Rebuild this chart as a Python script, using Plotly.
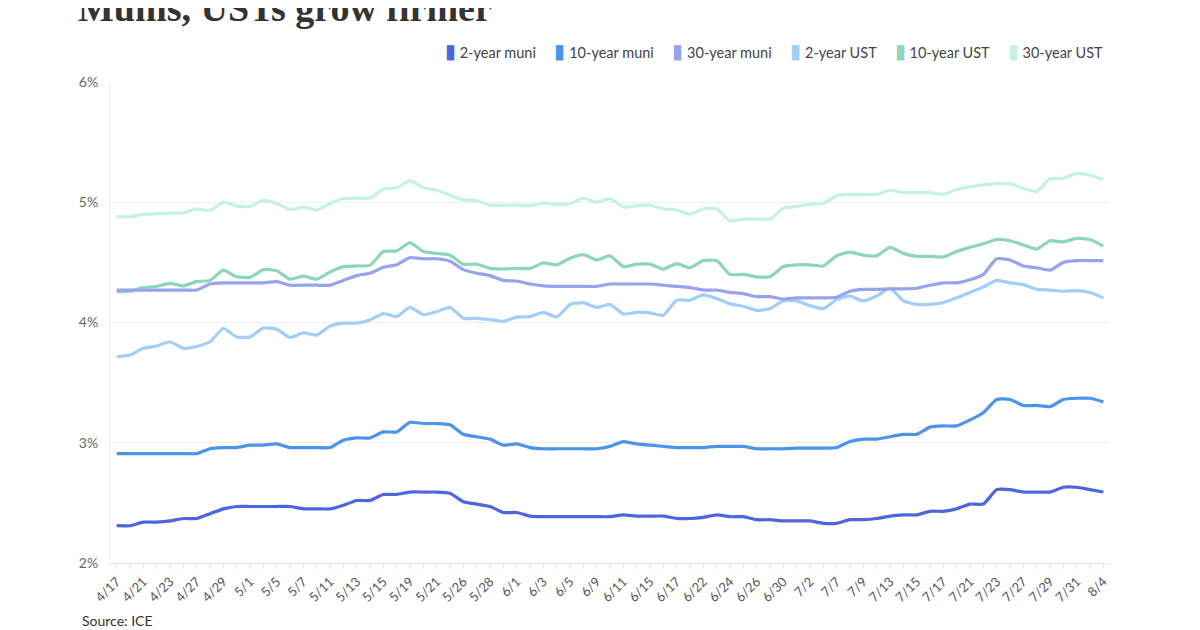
import plotly.graph_objects as go

# -------------------------------------------------------
# 1. Datos
# -------------------------------------------------------
fechas = [
    "4/17", "4/20", "4/21", "4/22", "4/23", "4/24", "4/27", "4/28", "4/29", "4/30",
    "5/1", "5/4", "5/5", "5/6", "5/7", "5/8", "5/11", "5/12", "5/13", "5/14",
    "5/15", "5/18", "5/19", "5/20", "5/21", "5/22", "5/26", "5/27", "5/28", "5/29",
    "6/1", "6/2", "6/3", "6/4", "6/5", "6/8", "6/9", "6/10", "6/11", "6/12",
    "6/15", "6/16", "6/17", "6/18", "6/22", "6/23", "6/24", "6/25", "6/26", "6/29",
    "6/30", "7/1", "7/2", "7/6", "7/7", "7/8", "7/9", "7/10", "7/13", "7/14",
    "7/15", "7/16", "7/17", "7/20", "7/21", "7/22", "7/23", "7/24", "7/27", "7/28",
    "7/29", "7/30", "7/31", "8/3", "8/4",
]

muni_2y = [
    2.31, 2.31, 2.34, 2.34, 2.35, 2.37, 2.37, 2.41, 2.45, 2.47,
    2.47, 2.47, 2.47, 2.47, 2.45, 2.45, 2.45, 2.48, 2.52, 2.52,
    2.57, 2.57, 2.59, 2.59, 2.59, 2.58, 2.51, 2.49, 2.47, 2.42,
    2.42, 2.39, 2.385, 2.385, 2.385, 2.385, 2.385, 2.385, 2.40, 2.39,
    2.39, 2.39, 2.37, 2.37, 2.38, 2.40, 2.385, 2.385, 2.36, 2.36,
    2.35, 2.35, 2.35, 2.33, 2.33, 2.36, 2.36, 2.37, 2.39, 2.40,
    2.40, 2.43, 2.43, 2.45, 2.49, 2.49, 2.61, 2.61, 2.59, 2.59,
    2.59, 2.63, 2.63, 2.61, 2.59,
]

muni_10y = [
    2.91, 2.91, 2.91, 2.91, 2.91, 2.91, 2.91, 2.95, 2.96, 2.96,
    2.98, 2.98, 2.99, 2.96, 2.96, 2.96, 2.96, 3.02, 3.04, 3.04,
    3.09, 3.09, 3.17, 3.16, 3.16, 3.15, 3.07, 3.05, 3.03, 2.98,
    2.99, 2.96, 2.95, 2.95, 2.95, 2.95, 2.95, 2.97, 3.01, 2.99,
    2.98, 2.97, 2.96, 2.96, 2.96, 2.97, 2.97, 2.97, 2.95, 2.95,
    2.95, 2.955, 2.955, 2.955, 2.96, 3.01, 3.03, 3.03, 3.05, 3.07,
    3.07, 3.13, 3.14, 3.14, 3.19, 3.25, 3.36, 3.36, 3.31, 3.31,
    3.30, 3.36, 3.37, 3.37, 3.34,
]

muni_30y = [
    4.27, 4.27, 4.27, 4.27, 4.27, 4.27, 4.27, 4.32, 4.33, 4.33,
    4.33, 4.33, 4.34, 4.31, 4.31, 4.31, 4.31, 4.35, 4.39, 4.41,
    4.46, 4.48, 4.54, 4.53, 4.53, 4.51, 4.44, 4.41, 4.39, 4.35,
    4.345, 4.32, 4.305, 4.30, 4.30, 4.30, 4.30, 4.32, 4.32, 4.32,
    4.32, 4.31, 4.30, 4.29, 4.27, 4.27, 4.25, 4.24, 4.215, 4.215,
    4.195, 4.205, 4.205, 4.205, 4.21, 4.26, 4.275, 4.275, 4.28, 4.28,
    4.285, 4.31, 4.33, 4.33, 4.355, 4.40, 4.53, 4.52, 4.47, 4.455,
    4.435, 4.50, 4.515, 4.515, 4.515,
]

ust_2y = [
    3.715, 3.73, 3.785, 3.805, 3.84, 3.785, 3.80, 3.84, 3.95, 3.88,
    3.88, 3.955, 3.945, 3.875, 3.915, 3.895, 3.97, 3.995, 3.995, 4.02,
    4.075, 4.05, 4.125, 4.065, 4.09, 4.125, 4.035, 4.035, 4.025, 4.01,
    4.045, 4.05, 4.085, 4.045, 4.15, 4.165, 4.125, 4.15, 4.07, 4.085,
    4.08, 4.06, 4.185, 4.185, 4.23, 4.20, 4.155, 4.135, 4.10, 4.115,
    4.18, 4.18, 4.14, 4.115, 4.19, 4.22, 4.18, 4.22, 4.285, 4.18,
    4.15, 4.15, 4.165, 4.205, 4.25, 4.295, 4.35, 4.33, 4.315, 4.275,
    4.27, 4.26, 4.265, 4.25, 4.205,
]

ust_10y = [
    4.255, 4.26, 4.29, 4.30, 4.325, 4.305, 4.34, 4.35, 4.435, 4.38,
    4.375, 4.44, 4.43, 4.36, 4.385, 4.36, 4.42, 4.465, 4.47, 4.475,
    4.59, 4.595, 4.665, 4.59, 4.575, 4.56, 4.485, 4.485, 4.45, 4.445,
    4.45, 4.45, 4.495, 4.48, 4.535, 4.565, 4.52, 4.555, 4.465, 4.485,
    4.485, 4.445, 4.49, 4.455, 4.515, 4.515, 4.40, 4.40, 4.38, 4.38,
    4.465, 4.48, 4.48, 4.47, 4.555, 4.585, 4.56, 4.555, 4.625, 4.575,
    4.55, 4.55, 4.545, 4.59, 4.625, 4.655, 4.69, 4.68, 4.645, 4.61,
    4.68, 4.67, 4.70, 4.69, 4.635,
]

ust_30y = [
    4.88, 4.88, 4.90, 4.905, 4.91, 4.91, 4.945, 4.93, 5.00, 4.97,
    4.965, 5.015, 4.99, 4.94, 4.96, 4.935, 4.99, 5.03, 5.035, 5.035,
    5.11, 5.12, 5.18, 5.12, 5.10, 5.06, 5.02, 5.015, 4.975, 4.975,
    4.975, 4.97, 4.995, 4.98, 4.99, 5.035, 5.00, 5.03, 4.96, 4.97,
    4.975, 4.945, 4.935, 4.90, 4.945, 4.945, 4.845, 4.86, 4.86, 4.86,
    4.95, 4.965, 4.985, 4.99, 5.055, 5.065, 5.065, 5.065, 5.10, 5.08,
    5.08, 5.08, 5.065, 5.105, 5.13, 5.145, 5.155, 5.155, 5.115, 5.09,
    5.195, 5.20, 5.24, 5.225, 5.19,
]

nombres = ["2-year muni", "10-year muni", "30-year muni", "2-year UST", "10-year UST", "30-year UST"]
colores = ["#4f65dd", "#4b95e9", "#98a3ee", "#a2cff6", "#8dd7b8", "#c6f2e2"]
series = [muni_2y, muni_10y, muni_30y, ust_2y, ust_10y, ust_30y]

y_ticks = [2, 3, 4, 5, 6]
y_etiquetas = [f"{v}%" for v in y_ticks]

# etiquetas del eje x: una si, una no
etiquetas_x = [f if i % 2 == 0 else "" for i, f in enumerate(fechas)]

# -------------------------------------------------------
# 2. Figura
# -------------------------------------------------------
fig = go.Figure()

# lineas (dibujadas de atras hacia adelante)
for nombre, color, valores in reversed(list(zip(nombres, colores, series))):
    fig.add_trace(go.Scatter(
        x=fechas,
        y=valores,
        mode="lines",
        name=nombre,
        line=dict(color=color, width=3.2, shape="spline", smoothing=0.5),
        showlegend=False,
    ))

fig.update_layout(
    width=1200,
    height=630,
    # la pagina tiene 8px de margen en el body
    margin=dict(l=102, r=98, t=74, b=75),
    paper_bgcolor="white",
    plot_bgcolor="white",
    font=dict(family="Lato", size=14, color="#555"),
    showlegend=False,
    hovermode="x unified",
)

fig.update_xaxes(
    type="category",
    range=[-0.5, len(fechas) - 0.5],
    tickmode="array",
    tickvals=fechas,
    ticktext=etiquetas_x,
    tickangle=-45,
    ticks="outside",
    ticklen=5,
    tickcolor="#e6e6e6",
    tickfont=dict(family="Lato", size=13, color="#555"),
    showgrid=False,
    showline=True,
    linecolor="#e6e6e6",
    zeroline=False,
)

fig.update_yaxes(
    range=[2, 6],
    tickmode="array",
    tickvals=y_ticks,
    ticktext=y_etiquetas,
    tickfont=dict(family="Lato", size=14, color="#666"),
    showgrid=True,
    gridcolor="#efefef",
    showline=True,
    linecolor="#eeeeee",
    zeroline=False,
    ticks="",
    ticklabelstandoff=8,
)

# leyenda hecha a mano (cuadradito + texto)
leyenda = "&nbsp;&nbsp;&nbsp;&nbsp;&nbsp;".join(
    f"<span style='color:{c};font-size:20px'>▮</span>&nbsp;{n}" for n, c in zip(nombres, colores)
)
fig.add_annotation(
    text=leyenda,
    xref="paper", yref="paper",
    x=0.995, y=1.0665,
    xanchor="right", yanchor="middle",
    showarrow=False,
    font=dict(family="Lato", size=14.5, color="#444"),
)

# titulo y fuente
fig.add_annotation(
    text="<b>Munis, USTs grow firmer</b>",
    xref="paper", yref="paper",
    x=-0.034, y=1.106,
    xanchor="left", yanchor="bottom",
    showarrow=False,
    font=dict(family="Liberation Serif", size=38, color="#333"),
)
fig.add_annotation(
    text="Source: ICE",
    xref="paper", yref="paper",
    x=-0.03, y=-0.0977,
    xanchor="left", yanchor="top",
    showarrow=False,
    font=dict(family="Lato", size=14, color="#333"),
)

fig.write_html("out.html")
